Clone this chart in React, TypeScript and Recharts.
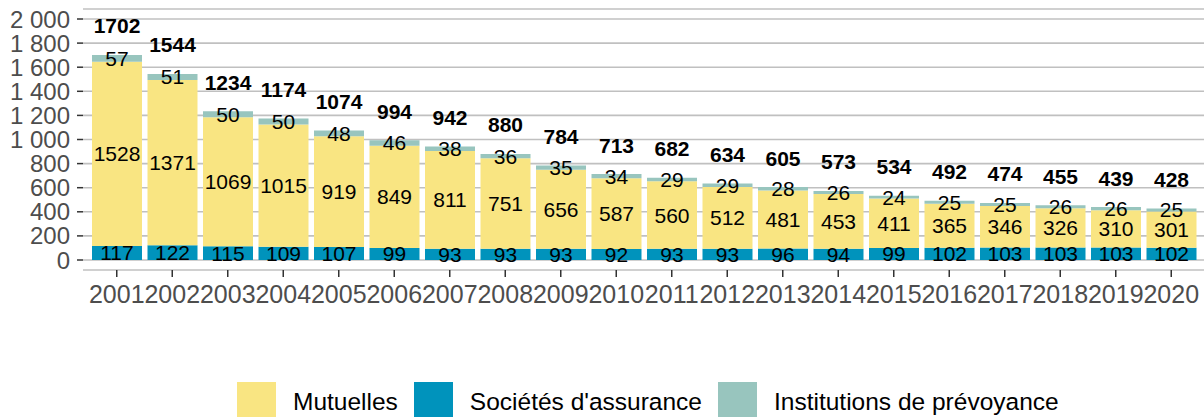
import React from "react";
import { BarChart, Bar, XAxis, YAxis, CartesianGrid, LabelList } from "recharts";

const years = ["2001","2002","2003","2004","2005","2006","2007","2008","2009","2010","2011","2012","2013","2014","2015","2016","2017","2018","2019","2020"];
const societes = [117,122,115,109,107,99,93,93,93,92,93,93,96,94,99,102,103,103,103,102];
const mutuelles = [1528,1371,1069,1015,919,849,811,751,656,587,560,512,481,453,411,365,346,326,310,301];
const institutions = [57,51,50,50,48,46,38,36,35,34,29,29,28,26,24,25,25,26,26,25];
const totals = [1702,1544,1234,1174,1074,994,942,880,784,713,682,634,605,573,534,492,474,455,439,428];
const yTicks = [0,200,400,600,800,1000,1200,1400,1600,1800,2000];

const series = [
  { key: "mutuelles", name: "Mutuelles", color: "#F9E582" },
  { key: "societes", name: "Sociétés d'assurance", color: "#0093BC" },
  { key: "institutions", name: "Institutions de prévoyance", color: "#98C5BE" },
];

const data = years.map((y, i) => ({
  year: y,
  societes: societes[i],
  mutuelles: mutuelles[i],
  institutions: institutions[i],
  total: totals[i],
}));

const fmt = (v: number) => {
  const s = String(v);
  return s.length > 3 ? s.slice(0, s.length - 3) + " " + s.slice(s.length - 3) : s;
};

const colorOf = (k: string) => series.find((s) => s.key === k)!.color;

const renderTotal = (props: any) => {
  const { x, y, width, value } = props;
  return (
    <text
      x={Number(x) + Number(width) / 2}
      y={Number(y) - 29}
      dy="0.355em"
      textAnchor="middle"
      fontWeight="bold"
      fontSize={21}
      fill="#000"
    >
      {value}
    </text>
  );
};

export default function App() {
  return (
    <div
      style={{
        position: "absolute",
        left: 0,
        top: 0,
        width: 1204,
        height: 417,
        overflow: "hidden",
        background: "#fff",
        fontFamily: "'Liberation Sans', Arial, sans-serif",
      }}
    >
      <BarChart
        width={1204}
        height={417}
        data={data}
        margin={{ top: 9, right: 0, left: 0, bottom: 87 }}
      >
        <CartesianGrid vertical={false} stroke="#c0c0c0" strokeWidth={1.6} />
        <XAxis
          dataKey="year"
          interval={0}
          axisLine={false}
          tickLine={{ stroke: "#333", strokeWidth: 1.5 }}
          tickSize={7}
          tickMargin={8}
          height={60}
          padding={{ left: 6, right: 5 }}
          tick={{ fill: "#4d4d4d", fontSize: 25 }}
        />
        <YAxis
          type="number"
          domain={[-83, 2083]}
          ticks={yTicks}
          interval={0}
          width={83}
          axisLine={false}
          tickLine={{ stroke: "#333", strokeWidth: 1.5 }}
          tickSize={6}
          tickMargin={7}
          tickFormatter={fmt}
          tick={{ fill: "#4d4d4d", fontSize: 24 }}
        />
        <Bar dataKey="societes" stackId="a" fill={colorOf("societes")} barSize={50} isAnimationActive={false}>
          <LabelList dataKey="societes" position="center" fill="#000" fontSize={21} />
        </Bar>
        <Bar dataKey="mutuelles" stackId="a" fill={colorOf("mutuelles")} barSize={50} isAnimationActive={false}>
          <LabelList dataKey="mutuelles" position="center" fill="#000" fontSize={21} />
        </Bar>
        <Bar dataKey="institutions" stackId="a" fill={colorOf("institutions")} barSize={50} isAnimationActive={false}>
          <LabelList dataKey="institutions" position="center" fill="#000" fontSize={21} />
          <LabelList dataKey="total" content={renderTotal} />
        </Bar>
      </BarChart>
      <div
        style={{
          position: "absolute",
          left: 237,
          top: 382,
          display: "flex",
          alignItems: "center",
          fontSize: 24.5,
          color: "#000",
          lineHeight: "39px",
          whiteSpace: "nowrap",
        }}
      >
        {series.map((s, i) => (
          <div key={s.key} style={{ display: "flex", alignItems: "center", marginLeft: i === 0 ? 0 : 16 }}>
            <div style={{ width: 39, height: 39, background: s.color }} />
            <span style={{ marginLeft: 17 }}>{s.name}</span>
          </div>
        ))}
      </div>
    </div>
  );
}
